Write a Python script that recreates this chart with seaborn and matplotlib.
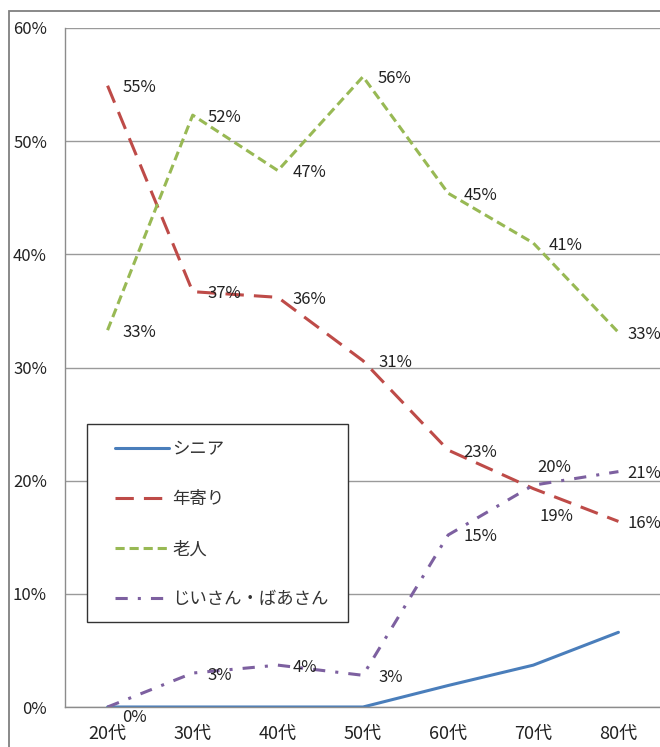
import matplotlib
matplotlib.use("Agg")
import matplotlib.pyplot as plt
from matplotlib.patches import Rectangle
import seaborn as sns
import pandas as pd

# Age groups and share (%) of respondents using each word
ages = ["20代", "30代", "40代", "50代", "60代", "70代", "80代"]
senior = [0.0, 0.0, 0.0, 0.0, 1.9, 3.7, 6.6]
toshiyori = [54.9, 36.7, 36.2, 30.6, 22.7, 19.3, 16.4]
rojin = [33.3, 52.3, 47.4, 55.7, 45.4, 41.0, 33.1]
jiisan = [0.0, 3.0, 3.7, 2.8, 15.2, 19.6, 20.8]
series_names = ["シニア", "年寄り", "老人", "じいさん・ばあさん"]
yticks = [0, 10, 20, 30, 40, 50, 60]

sns.set_style("white")
plt.rcParams["font.family"] = ["Noto Sans CJK JP", "DejaVu Sans"]

values = {"シニア": senior, "年寄り": toshiyori, "老人": rojin, "じいさん・ばあさん": jiisan}
df = pd.DataFrame(
    [(i, v, name) for name in series_names for i, v in enumerate(values[name])],
    columns=["pos", "pct", "series"],
)

palette = {"シニア": "#4a7ebb", "年寄り": "#be4b48", "老人": "#98b954", "じいさん・ばあさん": "#7d60a0"}
dashes = {"シニア": "", "年寄り": (6, 3.3), "老人": (3, 1.6), "じいさん・ばあさん": (4, 3.3, 1, 3.3)}

W, H = 660, 747
fig = plt.figure(figsize=(W / 100, H / 100), dpi=100)
ax = fig.add_axes([65 / W, 40 / H, 596 / W, 679 / H])

# outer chart-area frame
fig.patches.append(Rectangle((9 / W, -0.05), 1.2, (H - 10.5) / H + 0.05,
                             transform=fig.transFigure, fill=False,
                             edgecolor="#808080", linewidth=1.3))

sns.lineplot(data=df, x="pos", y="pct", hue="series", style="series",
             hue_order=series_names, style_order=series_names,
             palette=palette, dashes=dashes, linewidth=2.2, legend=False,
             sort=False, ax=ax, solid_joinstyle="round", dash_joinstyle="round")

ax.set_xlim(-0.5, 6.5)
ax.set_ylim(0, 60)
ax.set_xlabel("")
ax.set_ylabel("")
ax.set_xticks(range(len(ages)))
ax.set_xticklabels(ages)
ax.set_xticks([i - 0.5 for i in range(len(ages) + 1)], minor=True)
ax.set_yticks(yticks)
ax.set_yticklabels([f"{t}%" for t in yticks])
ax.tick_params(axis="x", which="major", length=0, pad=13, labelsize=13, labelcolor="#222222")
ax.tick_params(axis="x", which="minor", length=6, width=1, color="#8c8c8c", direction="out")
ax.tick_params(axis="y", length=5, width=1, color="#8c8c8c", pad=8, labelsize=12,
               labelcolor="#222222", direction="out")
ax.yaxis.grid(True, color="#9a9a9a", linewidth=1)
ax.set_axisbelow(True)
for side in ("top", "right"):
    ax.spines[side].set_visible(False)
for side in ("left", "bottom"):
    ax.spines[side].set_color("#8c8c8c")
    ax.spines[side].set_linewidth(1)

# data labels (blue series has none)
offsets = {("じいさん・ばあさん", 0): (15, -11),
           ("年寄り", 5): (6, -28),
           ("じいさん・ばあさん", 5): (4, 18)}
last = len(ages) - 1
for name in ["年寄り", "老人", "じいさん・ばあさん"]:
    for i, v in enumerate(values[name]):
        default = (9, -2) if i == last else (15, -2)
        dx, dy = offsets.get((name, i), default)
        ax.annotate(f"{round(v)}%", xy=(i, v), xytext=(dx, dy),
                    textcoords="offset pixels", ha="left", va="center",
                    fontsize=12, color="#222222", annotation_clip=False)

# legend box
x0 = (87 - 65) / 596
y0 = (707 - 622) / 679
ax.add_patch(Rectangle((x0, y0), (348 - 87) / 596, (622 - 424) / 679,
                       transform=ax.transAxes, facecolor="white",
                       edgecolor="#333333", linewidth=1, zorder=5))
leg = ax.legend(handles=ax.lines[:4], labels=series_names, loc="upper left",
                bbox_to_anchor=((115 - 65) / 596, (707 - 440) / 679),
                frameon=False, borderpad=0, borderaxespad=0, fontsize=12.5,
                handlelength=3.1, handletextpad=0.2, labelspacing=1.85)
leg.set_zorder(6)
for t in leg.get_texts():
    t.set_color("#333333")

fig.savefig("out.png", dpi=100)
